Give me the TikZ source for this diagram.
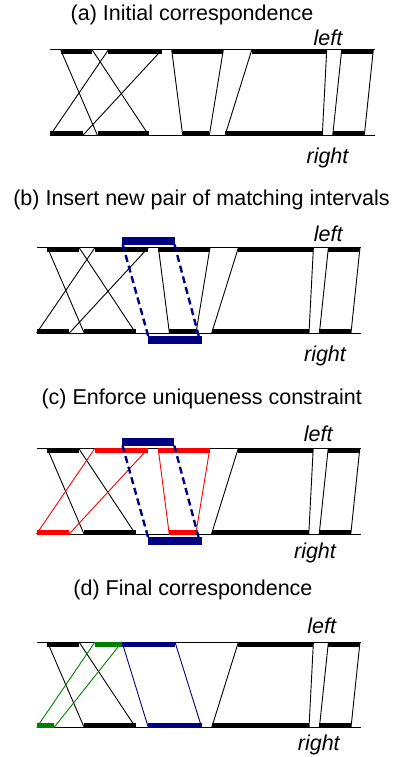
\documentclass[tikz,border=0pt]{standalone}
\usepackage{fontspec}
\setmainfont{Liberation Sans}
\usetikzlibrary{positioning}

\definecolor{navy}{RGB}{0,0,128}
\definecolor{dkgreen}{RGB}{0,128,0}

% matched pair of intervals: name, colour, left from/to, right from/to
\newcommand{\matchpair}[6]{
  \coordinate (#1tl) at (#3,0);
  \coordinate (#1tr) at (#4,0);
  \coordinate (#1bl) at (#5,85.5);
  \coordinate (#1br) at (#6,85.5);
  \fill[#2] (#3,-0.5) rectangle (#4,4.5);
  \fill[#2] (#5,81) rectangle (#6,86);
  \draw[link,#2] (#1tl) -- (#1bl) (#1tr) -- (#1br);
}
% the new pair, drawn above and below the two lines
\newcommand{\insertpair}[1]{
  \fill[navy] (85.3,-11) rectangle (137.8,-3);
  \fill[navy] (111.6,88.5) rectangle (165,96.5);
  \coordinate (#1tl) at (86,-3);
  \coordinate (#1tr) at (137.8,-3);
  \coordinate (#1bl) at (111.5,88.5);
  \coordinate (#1br) at (162,88.5);
  \draw[newlink] (#1tl) -- (#1bl) (#1tr) -- (#1br);
}

\begin{document}
\begin{tikzpicture}[
  x=1pt, y=-1pt,
  base/.style={line width=1pt},
  link/.style={line width=0.9pt},
  newlink/.style={navy, line width=2.4pt, dash pattern=on 7pt off 4pt},
  title/.style={anchor=base, inner sep=0pt, font=\fontsize{21.5}{24}\selectfont},
  side/.style={anchor=base, inner sep=0pt, font=\fontsize{21.5}{24}\selectfont\itshape}
]
\useasboundingbox (0,0) rectangle (401,757);

% (a)
\node[title] (ta) at (192,21) {(a) Initial correspondence};
\begin{scope}[shift={(50,50)}]
  \draw[base] (0,0) -- (325,0) (0,85.5) -- (325,85.5);
  \matchpair{a1}{black}{10.7}{42.3}{47.5}{99}
  \matchpair{a2}{black}{58.3}{111.7}{0}{32.7}
  \matchpair{a3}{black}{121.7}{173.3}{132.7}{159.3}
  \matchpair{a4}{black}{201.7}{276.7}{175}{272.3}
  \matchpair{a5}{black}{291.7}{323.3}{282.7}{314.3}
\end{scope}
\node[side] (la) at (328,45.7) {left};
\node[side] (ra) at (327.5,163.5) {right};

% (b)
\node[title] (tb) at (201.5,205) {(b) Insert new pair of matching intervals};
\begin{scope}[shift={(36.7,247.5)}]
  \draw[base] (0,0) -- (324.5,0) (0,85.5) -- (324.5,85.5);
  \matchpair{b1}{black}{10.7}{42.3}{47.5}{99}
  \matchpair{b2}{black}{58.3}{111.7}{0}{32.7}
  \matchpair{b3}{black}{121.7}{173.3}{132.7}{159.3}
  \matchpair{b4}{black}{201.7}{276.7}{175}{272.3}
  \matchpair{b5}{black}{291.7}{323.3}{282.7}{314.3}
  \insertpair{bn}
\end{scope}
\node[side] (lb) at (328.3,241.5) {left};
\node[side] (rb) at (325,361.7) {right};

% (c)
\node[title] (tc) at (201.7,404) {(c) Enforce uniqueness constraint};
\begin{scope}[shift={(36.5,448.5)}]
  \draw[base] (0,0) -- (324.5,0) (0,85.5) -- (324.5,85.5);
  \matchpair{c1}{black}{10.7}{42.3}{47.5}{99}
  \matchpair{c2}{red}{58.3}{111.7}{0}{32.7}
  \matchpair{c3}{red}{121.7}{173.3}{132.7}{159.3}
  \matchpair{c4}{black}{201.7}{276.7}{175}{272.3}
  \matchpair{c5}{black}{291.7}{323.3}{282.7}{314.3}
  \insertpair{cn}
\end{scope}
\node[side] (lc) at (318.3,441.7) {left};
\node[side] (rc) at (315,558.3) {right};

% (d)
\node[title] (td) at (193,595) {(d) Final correspondence};
\begin{scope}[shift={(36.7,642)}]
  \draw[base] (0,0) -- (324.5,0) (0,85.5) -- (324.5,85.5);
  \matchpair{d1}{black}{10.7}{42.3}{47.5}{99}
  \matchpair{d2}{dkgreen}{58.3}{85.3}{0}{17.3}
  \matchpair{d3}{navy}{85.3}{138.3}{111.6}{165}
  \matchpair{d4}{black}{201.7}{276.7}{175}{272.3}
  \matchpair{d5}{black}{291.7}{323.3}{282.7}{314.3}
\end{scope}
\node[side] (ld) at (321.7,633.3) {left};
\node[side] (rd) at (318.8,750.5) {right};

\end{tikzpicture}
\end{document}
